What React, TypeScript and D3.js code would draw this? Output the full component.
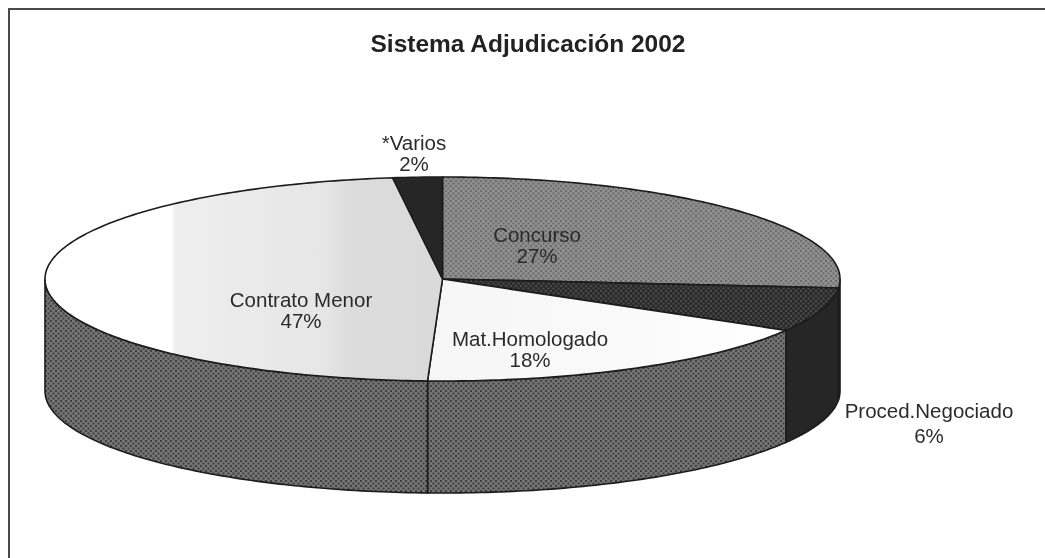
import React from "react";
import * as d3 from "d3";

const categories = ["Concurso", "Proced.Negociado", "Mat.Homologado", "Contrato Menor", "*Varios"];
const values = [26.4, 7, 17.2, 47.4, 2];
const pctLabels = ["27%", "6%", "18%", "47%", "2%"];
const title = "Sistema Adjudicación 2002";

const W = 1045, H = 558;
const cx = 442.5, cy = 279, rx = 397.5, ry = 102, depth = 112;
const sx = d3.scaleLinear().domain([-1, 1]).range([cx - rx, cx + rx]);
const sy = d3.scaleLinear().domain([-1, 1]).range([cy - ry, cy + ry]);

const slices = d3.pie<number>().sort(null).value((d) => d)(values);
const line = d3.line<[number, number]>();
const onEllipse = (a: number, dy = 0): [number, number] => [sx(Math.sin(a)), sy(-Math.cos(a)) + dy];
const sample = (a0: number, a1: number, dy = 0) => {
  const n = Math.max(2, Math.ceil(Math.abs(a1 - a0) * 60));
  return d3.range(n + 1).map((i) => onEllipse(a0 + ((a1 - a0) * i) / n, dy));
};
const topPath = (a0: number, a1: number) => line([[cx, cy], ...sample(a0, a1)]) + "Z";
const wallPath = (a0: number, a1: number) =>
  line([...sample(a0, a1), ...sample(a1, a0, depth)]) + "Z";

const topFills = ["url(#pGrey)", "url(#pDark)", "url(#gMat)", "url(#gMenor)", "#262626"];
const wallFills = ["#262626", "#262626", "url(#pWall)", "url(#pWall)", "#262626"];
// x, first baseline, gap to second line
const labelPos: [number, number, number][] = [
  [537, 242, 21],
  [929, 418, 25],
  [530, 346, 21],
  [301, 307, 21],
  [414, 150, 21],
];

export default function App() {
  return (
    <svg
      width={W}
      height={H}
      viewBox={`0 0 ${W} ${H}`}
      style={{ position: "absolute", left: 0, top: 0, background: "#fff" }}
    >
      <defs>
        <filter id="soft" x="-5%" y="-5%" width="110%" height="110%">
          <feGaussianBlur stdDeviation="0.7" />
        </filter>
        <filter id="softText" x="-5%" y="-5%" width="110%" height="110%">
          <feGaussianBlur stdDeviation="0.45" />
        </filter>
        <pattern id="pGrey" width="5" height="5" patternUnits="userSpaceOnUse">
          <rect width="5" height="5" fill="#8f8f8f" />
          <rect width="2" height="2" fill="#6c6c6c" />
          <rect x="2.5" y="2.5" width="2" height="2" fill="#6c6c6c" />
        </pattern>
        <pattern id="pDark" width="5" height="5" patternUnits="userSpaceOnUse">
          <rect width="5" height="5" fill="#2c2c2c" />
          <rect width="2" height="2" fill="#4c4c4c" />
          <rect x="2.5" y="2.5" width="2" height="2" fill="#4c4c4c" />
        </pattern>
        <pattern id="pWall" width="5" height="5" patternUnits="userSpaceOnUse">
          <rect width="5" height="5" fill="#747474" />
          <rect width="2" height="2" fill="#404040" />
          <rect x="2.5" y="2.5" width="2" height="2" fill="#404040" />
        </pattern>
        <linearGradient id="gMenor" gradientUnits="userSpaceOnUse" x1="44" x2="430" y1="0" y2="0">
          <stop offset="0.33" stopColor="#ffffff" />
          <stop offset="0.34" stopColor="#eeeeee" />
          <stop offset="0.72" stopColor="#e6e6e6" />
          <stop offset="0.8" stopColor="#dcdcdc" />
          <stop offset="1" stopColor="#dadada" />
        </linearGradient>
        <linearGradient id="gMat" gradientUnits="userSpaceOnUse" x1="430" x2="780" y1="0" y2="0">
          <stop offset="0" stopColor="#f6f6f6" />
          <stop offset="0.6" stopColor="#fafafa" />
          <stop offset="1" stopColor="#ffffff" />
        </linearGradient>
      </defs>
      <g filter="url(#soft)">
        <path d="M9,558V9H1045" fill="none" stroke="#4a4a4a" strokeWidth={2} />
        {slices.map((s, i) => {
          const a0 = Math.max(s.startAngle, Math.PI / 2);
          const a1 = Math.min(s.endAngle, (3 * Math.PI) / 2);
          return a1 > a0 ? (
            <path key={"w" + i} d={wallPath(a0, a1)} fill={wallFills[i]} stroke="#1c1c1c" strokeWidth={1.6} />
          ) : null;
        })}
        {slices.map((s, i) => (
          <path key={"t" + i} d={topPath(s.startAngle, s.endAngle)} fill={topFills[i]} stroke="#1c1c1c" strokeWidth={1.6} />
        ))}
      </g>
      <g filter="url(#softText)" fontFamily="'Liberation Sans', Arial, sans-serif" fill="#2c2c2c" textAnchor="middle" fontSize={20.5}>
        <text x={528} y={52} fontSize={24.5} fontWeight={700} fill="#222">{title}</text>
        {categories.map((c, i) => (
          <text key={c} x={labelPos[i][0]} y={labelPos[i][1]}>
            <tspan x={labelPos[i][0]}>{c}</tspan>
            <tspan x={labelPos[i][0]} dy={labelPos[i][2]}>{pctLabels[i]}</tspan>
          </text>
        ))}
      </g>
    </svg>
  );
}
